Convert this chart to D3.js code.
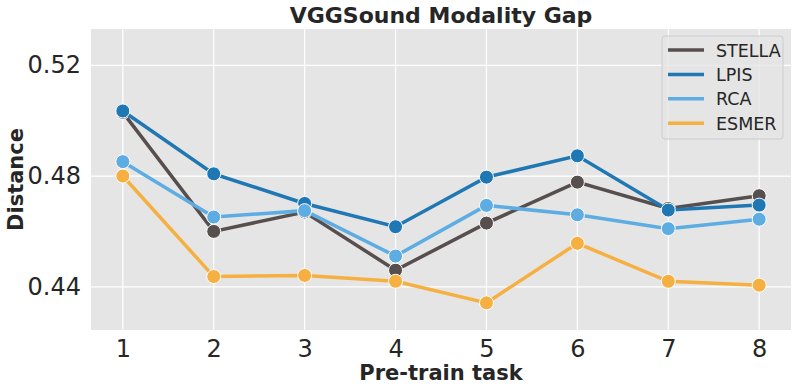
<!DOCTYPE html>
<html>
<head>
<meta charset="utf-8">
<script src="https://cdn.jsdelivr.net/npm/d3@7"></script>
<style>
  body { margin: 0; background: #fff; }
  svg { display: block; font-family: "DejaVu Sans", sans-serif; }
</style>
</head>
<body>
<div id="chart"></div>
<script>
// pre-train tasks on the x axis
var tasks = [1, 2, 3, 4, 5, 6, 7, 8];
var yTicks = [0.44, 0.48, 0.52];

// distance per method
var stella = [0.5030, 0.4600, 0.4670, 0.4460, 0.4630, 0.4778, 0.4683, 0.4729];
var lpis   = [0.5035, 0.4808, 0.4701, 0.4617, 0.4796, 0.4873, 0.4677, 0.4695];
var rca    = [0.4852, 0.4652, 0.4675, 0.4511, 0.4694, 0.4660, 0.4610, 0.4644];
var esmer  = [0.4800, 0.4437, 0.4441, 0.4420, 0.4342, 0.4557, 0.4420, 0.4406];

var seriesNames = ["STELLA", "LPIS", "RCA", "ESMER"];
var seriesColors = ["#574e4e", "#1f77b4", "#5dade2", "#f5b041"];

(function () {
  var width = 798, height = 391;
  var margin = { top: 29, right: 7, bottom: 61, left: 91 };
  var w = width - margin.left - margin.right,
    h = height - margin.top - margin.bottom;

  var svg = d3
    .select("#chart")
    .append("svg")
    .attr("width", width)
    .attr("height", height);

  var g = svg
    .append("g")
    .attr("transform", "translate(" + margin.left + "," + margin.top + ")");

  var x = d3.scaleLinear().domain([0.65, 8.35]).range([0, w]);
  var y = d3.scaleLinear().domain([0.4244, 0.5331]).range([h, 0]);

  // background
  g.append("rect").attr("width", w).attr("height", h).attr("fill", "#e5e5e5");

  // grid
  g.selectAll(".gx")
    .data(tasks)
    .enter()
    .append("line")
    .attr("x1", (d) => x(d))
    .attr("x2", (d) => x(d))
    .attr("y1", 0)
    .attr("y2", h)
    .attr("stroke", "#fff")
    .attr("stroke-width", 1.2);
  g.selectAll(".gy")
    .data(yTicks)
    .enter()
    .append("line")
    .attr("y1", (d) => y(d))
    .attr("y2", (d) => y(d))
    .attr("x1", 0)
    .attr("x2", w)
    .attr("stroke", "#fff")
    .attr("stroke-width", 1.2);

  // axes
  var xAxis = g
    .append("g")
    .attr("transform", "translate(0," + h + ")")
    .call(d3.axisBottom(x).tickValues(tasks).tickFormat(d3.format("d")).tickSize(0).tickPadding(10));
  var yAxis = g
    .append("g")
    .call(d3.axisLeft(y).tickValues(yTicks).tickFormat(d3.format(".2f")).tickSize(0).tickPadding(10));
  [xAxis, yAxis].forEach(function (a) {
    a.attr("font-family", "DejaVu Sans");
    a.select(".domain").remove();
    a.selectAll("text").attr("fill", "#262626").style("font-size", "24px");
  });

  // lines + markers
  var data = [stella, lpis, rca, esmer];
  var line = d3
    .line()
    .x((d, i) => x(tasks[i]))
    .y((d) => y(d));

  data.forEach(function (vals, k) {
    g.append("path")
      .datum(vals)
      .attr("d", line)
      .attr("fill", "none")
      .attr("stroke", seriesColors[k])
      .attr("stroke-width", 3.5);
    g.selectAll(".m" + k)
      .data(vals)
      .enter()
      .append("circle")
      .attr("cx", (d, i) => x(tasks[i]))
      .attr("cy", (d) => y(d))
      .attr("r", 7)
      .attr("fill", seriesColors[k])
      .attr("stroke", "#fff")
      .attr("stroke-width", 1);
  });

  // title and labels
  svg.append("text")
    .attr("x", margin.left + w / 2)
    .attr("y", 23)
    .attr("text-anchor", "middle")
    .attr("font-weight", "bold")
    .attr("font-size", "22px")
    .attr("fill", "#262626")
    .text("VGGSound Modality Gap");

  svg.append("text")
    .attr("x", margin.left + w / 2)
    .attr("y", 380)
    .attr("text-anchor", "middle")
    .attr("font-weight", "bold")
    .attr("font-size", "21px")
    .attr("fill", "#262626")
    .text("Pre-train task");

  svg.append("text")
    .attr("transform", "translate(23," + (margin.top + h / 2) + ")rotate(-90)")
    .attr("text-anchor", "middle")
    .attr("font-weight", "bold")
    .attr("font-size", "21px")
    .attr("fill", "#262626")
    .text("Distance");

  // legend
  var leg = svg.append("g").attr("transform", "translate(662,36)");
  leg.append("rect")
    .attr("width", 121)
    .attr("height", 103)
    .attr("rx", 3)
    .attr("fill", "#e5e5e5")
    .attr("fill-opacity", 0.8)
    .attr("stroke", "#cccccc");
  seriesNames.forEach(function (name, k) {
    var yy = 14 + k * 24.4;
    leg.append("line")
      .attr("x1", 6).attr("x2", 42)
      .attr("y1", yy).attr("y2", yy)
      .attr("stroke", seriesColors[k])
      .attr("stroke-width", 3.5);
    leg.append("text")
      .attr("x", 54)
      .attr("y", yy + 6.5)
      .attr("font-size", "17.5px")
      .attr("fill", "#262626")
      .text(name);
  });
})();
</script>
</body>
</html>
